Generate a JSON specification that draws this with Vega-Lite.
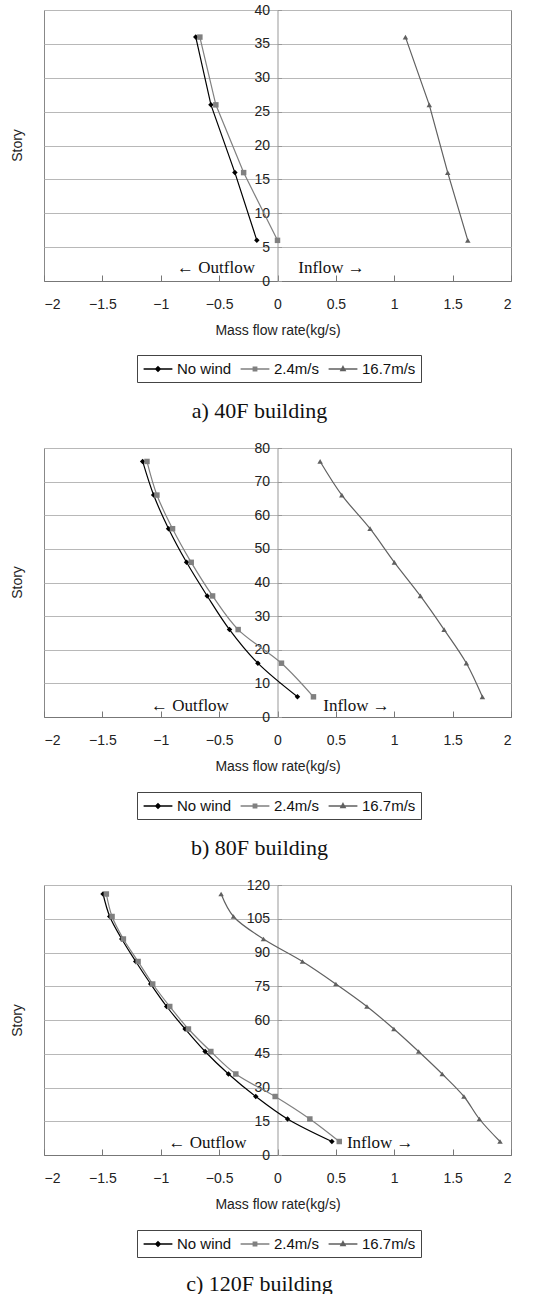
{
  "$schema": "https://vega.github.io/schema/vega-lite/v6.json",
  "padding": {"left": 10, "top": 2, "right": 5, "bottom": 0},
  "background": "white",
  "config": {
    "font": "Liberation Sans",
    "view": {"stroke": "#888888", "strokeWidth": 1},
    "axis": {"labelFont": "Liberation Sans", "titleFont": "Liberation Sans", "labelColor": "#222", "titleColor": "#222", "titleFontWeight": "normal", "labelFontSize": 14, "titleFontSize": 14},
    "legend": {"labelFont": "Liberation Sans", "labelFontSize": 15, "labelColor": "#111", "title": null, "orient": "none", "direction": "horizontal", "strokeColor": "#444", "padding": 5, "symbolSize": 256, "symbolStrokeWidth": 1.3, "symbolOffset": 7, "labelOffset": 10, "columnPadding": 6},
    "title": {"font": "Liberation Serif", "fontSize": 22, "fontWeight": "normal", "color": "#111"}
  },
  "datasets": {
    "a": [
      {"series": "No wind", "story": 6, "flow": -0.177},
      {"series": "No wind", "story": 16, "flow": -0.365},
      {"series": "No wind", "story": 26, "flow": -0.57},
      {"series": "No wind", "story": 36, "flow": -0.70},
      {"series": "2.4m/s", "story": 6, "flow": 0.0},
      {"series": "2.4m/s", "story": 16, "flow": -0.29},
      {"series": "2.4m/s", "story": 26, "flow": -0.528},
      {"series": "2.4m/s", "story": 36, "flow": -0.665},
      {"series": "16.7m/s", "story": 6, "flow": 1.63},
      {"series": "16.7m/s", "story": 16, "flow": 1.458},
      {"series": "16.7m/s", "story": 26, "flow": 1.30},
      {"series": "16.7m/s", "story": 36, "flow": 1.096}
    ],
    "b": [
      {"series": "No wind", "story": 6, "flow": 0.171},
      {"series": "No wind", "story": 16, "flow": -0.168},
      {"series": "No wind", "story": 26, "flow": -0.411},
      {"series": "No wind", "story": 36, "flow": -0.602},
      {"series": "No wind", "story": 46, "flow": -0.779},
      {"series": "No wind", "story": 56, "flow": -0.933},
      {"series": "No wind", "story": 66, "flow": -1.061},
      {"series": "No wind", "story": 76, "flow": -1.155},
      {"series": "2.4m/s", "story": 6, "flow": 0.308},
      {"series": "2.4m/s", "story": 16, "flow": 0.034},
      {"series": "2.4m/s", "story": 26, "flow": -0.337},
      {"series": "2.4m/s", "story": 36, "flow": -0.556},
      {"series": "2.4m/s", "story": 46, "flow": -0.739},
      {"series": "2.4m/s", "story": 56, "flow": -0.899},
      {"series": "2.4m/s", "story": 66, "flow": -1.033},
      {"series": "2.4m/s", "story": 76, "flow": -1.118},
      {"series": "16.7m/s", "story": 6, "flow": 1.755},
      {"series": "16.7m/s", "story": 16, "flow": 1.618},
      {"series": "16.7m/s", "story": 26, "flow": 1.427},
      {"series": "16.7m/s", "story": 36, "flow": 1.224},
      {"series": "16.7m/s", "story": 46, "flow": 1.001},
      {"series": "16.7m/s", "story": 56, "flow": 0.793},
      {"series": "16.7m/s", "story": 66, "flow": 0.551},
      {"series": "16.7m/s", "story": 76, "flow": 0.365}
    ],
    "c": [
      {"series": "No wind", "story": 6, "flow": 0.466},
      {"series": "No wind", "story": 16, "flow": 0.086},
      {"series": "No wind", "story": 26, "flow": -0.186},
      {"series": "No wind", "story": 36, "flow": -0.42},
      {"series": "No wind", "story": 46, "flow": -0.62},
      {"series": "No wind", "story": 56, "flow": -0.791},
      {"series": "No wind", "story": 66, "flow": -0.949},
      {"series": "No wind", "story": 76, "flow": -1.086},
      {"series": "No wind", "story": 86, "flow": -1.214},
      {"series": "No wind", "story": 96, "flow": -1.334},
      {"series": "No wind", "story": 106, "flow": -1.437},
      {"series": "No wind", "story": 116, "flow": -1.494},
      {"series": "2.4m/s", "story": 6, "flow": 0.529},
      {"series": "2.4m/s", "story": 16, "flow": 0.277},
      {"series": "2.4m/s", "story": 26, "flow": -0.02},
      {"series": "2.4m/s", "story": 36, "flow": -0.357},
      {"series": "2.4m/s", "story": 46, "flow": -0.571},
      {"series": "2.4m/s", "story": 56, "flow": -0.763},
      {"series": "2.4m/s", "story": 66, "flow": -0.923},
      {"series": "2.4m/s", "story": 76, "flow": -1.069},
      {"series": "2.4m/s", "story": 86, "flow": -1.194},
      {"series": "2.4m/s", "story": 96, "flow": -1.32},
      {"series": "2.4m/s", "story": 106, "flow": -1.417},
      {"series": "2.4m/s", "story": 116, "flow": -1.466},
      {"series": "16.7m/s", "story": 6, "flow": 1.906},
      {"series": "16.7m/s", "story": 16, "flow": 1.729},
      {"series": "16.7m/s", "story": 26, "flow": 1.597},
      {"series": "16.7m/s", "story": 36, "flow": 1.411},
      {"series": "16.7m/s", "story": 46, "flow": 1.209},
      {"series": "16.7m/s", "story": 56, "flow": 0.997},
      {"series": "16.7m/s", "story": 66, "flow": 0.766},
      {"series": "16.7m/s", "story": 76, "flow": 0.5},
      {"series": "16.7m/s", "story": 86, "flow": 0.214},
      {"series": "16.7m/s", "story": 96, "flow": -0.12},
      {"series": "16.7m/s", "story": 106, "flow": -0.377},
      {"series": "16.7m/s", "story": 116, "flow": -0.483}
    ],
    "annA": [
      {"label": "← Outflow", "flow": -0.527, "story": 1.9},
      {"label": "Inflow →", "flow": 0.463, "story": 1.9}
    ],
    "annB": [
      {"label": "← Outflow", "flow": -0.75, "story": 3.3},
      {"label": "Inflow →", "flow": 0.677, "story": 3.3}
    ],
    "annC": [
      {"label": "← Outflow", "flow": -0.6, "story": 5.3},
      {"label": "Inflow →", "flow": 0.88, "story": 5.3}
    ]
  },
  "resolve": {"scale": {"color": "independent", "shape": "independent"}},
  "spacing": 18,
  "vconcat": [
    {
      "width": 467, "height": 271,
      "title": {"text": "a) 40F building", "orient": "bottom", "anchor": "middle", "offset": 18, "dx": -18},
      "encoding": {
        "x": {"field": "flow", "type": "quantitative", "scale": {"domain": [-2, 2], "nice": false},
              "axis": {"values": [-2, -1.5, -1, -0.5, 0, 0.5, 1, 1.5, 2], "format": "~g", "tickSize": -6, "tickColor": "#777", "domainColor": "#777", "labelPadding": 22, "grid": false, "title": "Mass flow rate(kg/s)", "titlePadding": 12}},
        "y": {"field": "story", "type": "quantitative", "scale": {"domain": [0, 40], "nice": false},
              "axis": {"values": [0, 5, 10, 15, 20, 25, 30, 35, 40], "format": "d", "offset": -233.5, "tickSize": -4, "tickColor": "#999", "domainColor": "#999", "labelPadding": 12, "grid": true, "gridColor": "#b8b8b8", "title": "Story", "titleX": -253, "titleY": 135}}
      },
      "layer": [
        {"data": {"name": "a"}, "mark": {"type": "line", "strokeWidth": 1.2},
         "encoding": {"order": {"field": "story", "type": "quantitative"},
                      "stroke": {"field": "series", "type": "nominal", "legend": null, "scale": {"domain": ["No wind", "2.4m/s", "16.7m/s"], "range": ["#000000", "#808080", "#606060"]}}}},
        {"data": {"name": "a"}, "transform": [{"filter": "datum.series === 'No wind'"}], "mark": {"type": "point", "shape": "diamond", "filled": true, "opacity": 1, "size": 30, "color": "#000000"}},
        {"data": {"name": "a"}, "transform": [{"filter": "datum.series === '2.4m/s'"}], "mark": {"type": "point", "shape": "square", "filled": true, "opacity": 1, "size": 30, "color": "#808080"}},
        {"data": {"name": "a"}, "transform": [{"filter": "datum.series === '16.7m/s'"}], "mark": {"type": "point", "shape": "triangle-up", "filled": true, "opacity": 1, "size": 30, "color": "#606060"}},
        {"data": {"name": "a"}, "transform": [{"filter": "false"}], "mark": {"type": "point", "filled": false, "opacity": 1, "strokeWidth": 1.3},
         "encoding": {
           "color": {"field": "series", "type": "nominal", "scale": {"domain": ["No wind", "2.4m/s", "16.7m/s"], "range": ["#000000", "#808080", "#606060"]}, "legend": {"legendX": 93, "legendY": 345}},
           "shape": {"field": "series", "type": "nominal", "scale": {"domain": ["No wind", "2.4m/s", "16.7m/s"], "range": ["M-1.8,0H1.8M0,-0.3L0.3,0L0,0.3L-0.3,0ZM0,-0.14L0.14,0L0,0.14L-0.14,0Z", "M-1.8,0H1.8M-0.22,-0.22H0.22V0.22H-0.22ZM-0.09,-0.09H0.09V0.09H-0.09Z", "M-1.8,0H1.8M0,-0.32L0.28,0.2L-0.28,0.2ZM0,-0.12L0.1,0.08L-0.1,0.08Z"]}, "legend": {"legendX": 93, "legendY": 345}}
         }},
        {"data": {"name": "annA"}, "mark": {"type": "text", "font": "Liberation Serif", "fontSize": 17, "color": "#111"},
         "encoding": {"text": {"field": "label"}}}
      ]
    },
    {
      "width": 467, "height": 269,
      "title": {"text": "b) 80F building", "orient": "bottom", "anchor": "middle", "offset": 18, "dx": -18},
      "encoding": {
        "x": {"field": "flow", "type": "quantitative", "scale": {"domain": [-2, 2], "nice": false},
              "axis": {"values": [-2, -1.5, -1, -0.5, 0, 0.5, 1, 1.5, 2], "format": "~g", "tickSize": -6, "tickColor": "#777", "domainColor": "#777", "labelPadding": 22, "grid": false, "title": "Mass flow rate(kg/s)", "titlePadding": 12}},
        "y": {"field": "story", "type": "quantitative", "scale": {"domain": [0, 80], "nice": false},
              "axis": {"values": [0, 10, 20, 30, 40, 50, 60, 70, 80], "format": "d", "offset": -233.5, "tickSize": -4, "tickColor": "#999", "domainColor": "#999", "labelPadding": 12, "grid": true, "gridColor": "#b8b8b8", "title": "Story", "titleX": -253, "titleY": 134}}
      },
      "layer": [
        {"data": {"name": "b"}, "mark": {"type": "line", "strokeWidth": 1.2, "interpolate": "catmull-rom"},
         "encoding": {"order": {"field": "story", "type": "quantitative"},
                      "stroke": {"field": "series", "type": "nominal", "legend": null, "scale": {"domain": ["No wind", "2.4m/s", "16.7m/s"], "range": ["#000000", "#808080", "#606060"]}}}},
        {"data": {"name": "b"}, "transform": [{"filter": "datum.series === 'No wind'"}], "mark": {"type": "point", "shape": "diamond", "filled": true, "opacity": 1, "size": 30, "color": "#000000"}},
        {"data": {"name": "b"}, "transform": [{"filter": "datum.series === '2.4m/s'"}], "mark": {"type": "point", "shape": "square", "filled": true, "opacity": 1, "size": 30, "color": "#808080"}},
        {"data": {"name": "b"}, "transform": [{"filter": "datum.series === '16.7m/s'"}], "mark": {"type": "point", "shape": "triangle-up", "filled": true, "opacity": 1, "size": 30, "color": "#606060"}},
        {"data": {"name": "b"}, "transform": [{"filter": "false"}], "mark": {"type": "point", "filled": false, "opacity": 1, "strokeWidth": 1.3},
         "encoding": {
           "color": {"field": "series", "type": "nominal", "scale": {"domain": ["No wind", "2.4m/s", "16.7m/s"], "range": ["#000000", "#808080", "#606060"]}, "legend": {"legendX": 93, "legendY": 344}},
           "shape": {"field": "series", "type": "nominal", "scale": {"domain": ["No wind", "2.4m/s", "16.7m/s"], "range": ["M-1.8,0H1.8M0,-0.3L0.3,0L0,0.3L-0.3,0ZM0,-0.14L0.14,0L0,0.14L-0.14,0Z", "M-1.8,0H1.8M-0.22,-0.22H0.22V0.22H-0.22ZM-0.09,-0.09H0.09V0.09H-0.09Z", "M-1.8,0H1.8M0,-0.32L0.28,0.2L-0.28,0.2ZM0,-0.12L0.1,0.08L-0.1,0.08Z"]}, "legend": {"legendX": 93, "legendY": 344}}
         }},
        {"data": {"name": "annB"}, "mark": {"type": "text", "font": "Liberation Serif", "fontSize": 17, "color": "#111"},
         "encoding": {"text": {"field": "label"}}}
      ]
    },
    {
      "width": 467, "height": 270,
      "title": {"text": "c) 120F building", "orient": "bottom", "anchor": "middle", "offset": 16, "dx": -18},
      "encoding": {
        "x": {"field": "flow", "type": "quantitative", "scale": {"domain": [-2, 2], "nice": false},
              "axis": {"values": [-2, -1.5, -1, -0.5, 0, 0.5, 1, 1.5, 2], "format": "~g", "tickSize": -6, "tickColor": "#777", "domainColor": "#777", "labelPadding": 22, "grid": false, "title": "Mass flow rate(kg/s)", "titlePadding": 12}},
        "y": {"field": "story", "type": "quantitative", "scale": {"domain": [0, 120], "nice": false},
              "axis": {"values": [0, 15, 30, 45, 60, 75, 90, 105, 120], "format": "d", "offset": -233.5, "tickSize": -4, "tickColor": "#999", "domainColor": "#999", "labelPadding": 12, "grid": true, "gridColor": "#b8b8b8", "title": "Story", "titleX": -253, "titleY": 135}}
      },
      "layer": [
        {"data": {"name": "c"}, "mark": {"type": "line", "strokeWidth": 1.2, "interpolate": "catmull-rom"},
         "encoding": {"order": {"field": "story", "type": "quantitative"},
                      "stroke": {"field": "series", "type": "nominal", "legend": null, "scale": {"domain": ["No wind", "2.4m/s", "16.7m/s"], "range": ["#000000", "#808080", "#606060"]}}}},
        {"data": {"name": "c"}, "transform": [{"filter": "datum.series === 'No wind'"}], "mark": {"type": "point", "shape": "diamond", "filled": true, "opacity": 1, "size": 30, "color": "#000000"}},
        {"data": {"name": "c"}, "transform": [{"filter": "datum.series === '2.4m/s'"}], "mark": {"type": "point", "shape": "square", "filled": true, "opacity": 1, "size": 30, "color": "#808080"}},
        {"data": {"name": "c"}, "transform": [{"filter": "datum.series === '16.7m/s'"}], "mark": {"type": "point", "shape": "triangle-up", "filled": true, "opacity": 1, "size": 30, "color": "#606060"}},
        {"data": {"name": "c"}, "transform": [{"filter": "false"}], "mark": {"type": "point", "filled": false, "opacity": 1, "strokeWidth": 1.3},
         "encoding": {
           "color": {"field": "series", "type": "nominal", "scale": {"domain": ["No wind", "2.4m/s", "16.7m/s"], "range": ["#000000", "#808080", "#606060"]}, "legend": {"legendX": 93, "legendY": 345}},
           "shape": {"field": "series", "type": "nominal", "scale": {"domain": ["No wind", "2.4m/s", "16.7m/s"], "range": ["M-1.8,0H1.8M0,-0.3L0.3,0L0,0.3L-0.3,0ZM0,-0.14L0.14,0L0,0.14L-0.14,0Z", "M-1.8,0H1.8M-0.22,-0.22H0.22V0.22H-0.22ZM-0.09,-0.09H0.09V0.09H-0.09Z", "M-1.8,0H1.8M0,-0.32L0.28,0.2L-0.28,0.2ZM0,-0.12L0.1,0.08L-0.1,0.08Z"]}, "legend": {"legendX": 93, "legendY": 345}}
         }},
        {"data": {"name": "annC"}, "mark": {"type": "text", "font": "Liberation Serif", "fontSize": 17, "color": "#111"},
         "encoding": {"text": {"field": "label"}}}
      ]
    }
  ]
}
